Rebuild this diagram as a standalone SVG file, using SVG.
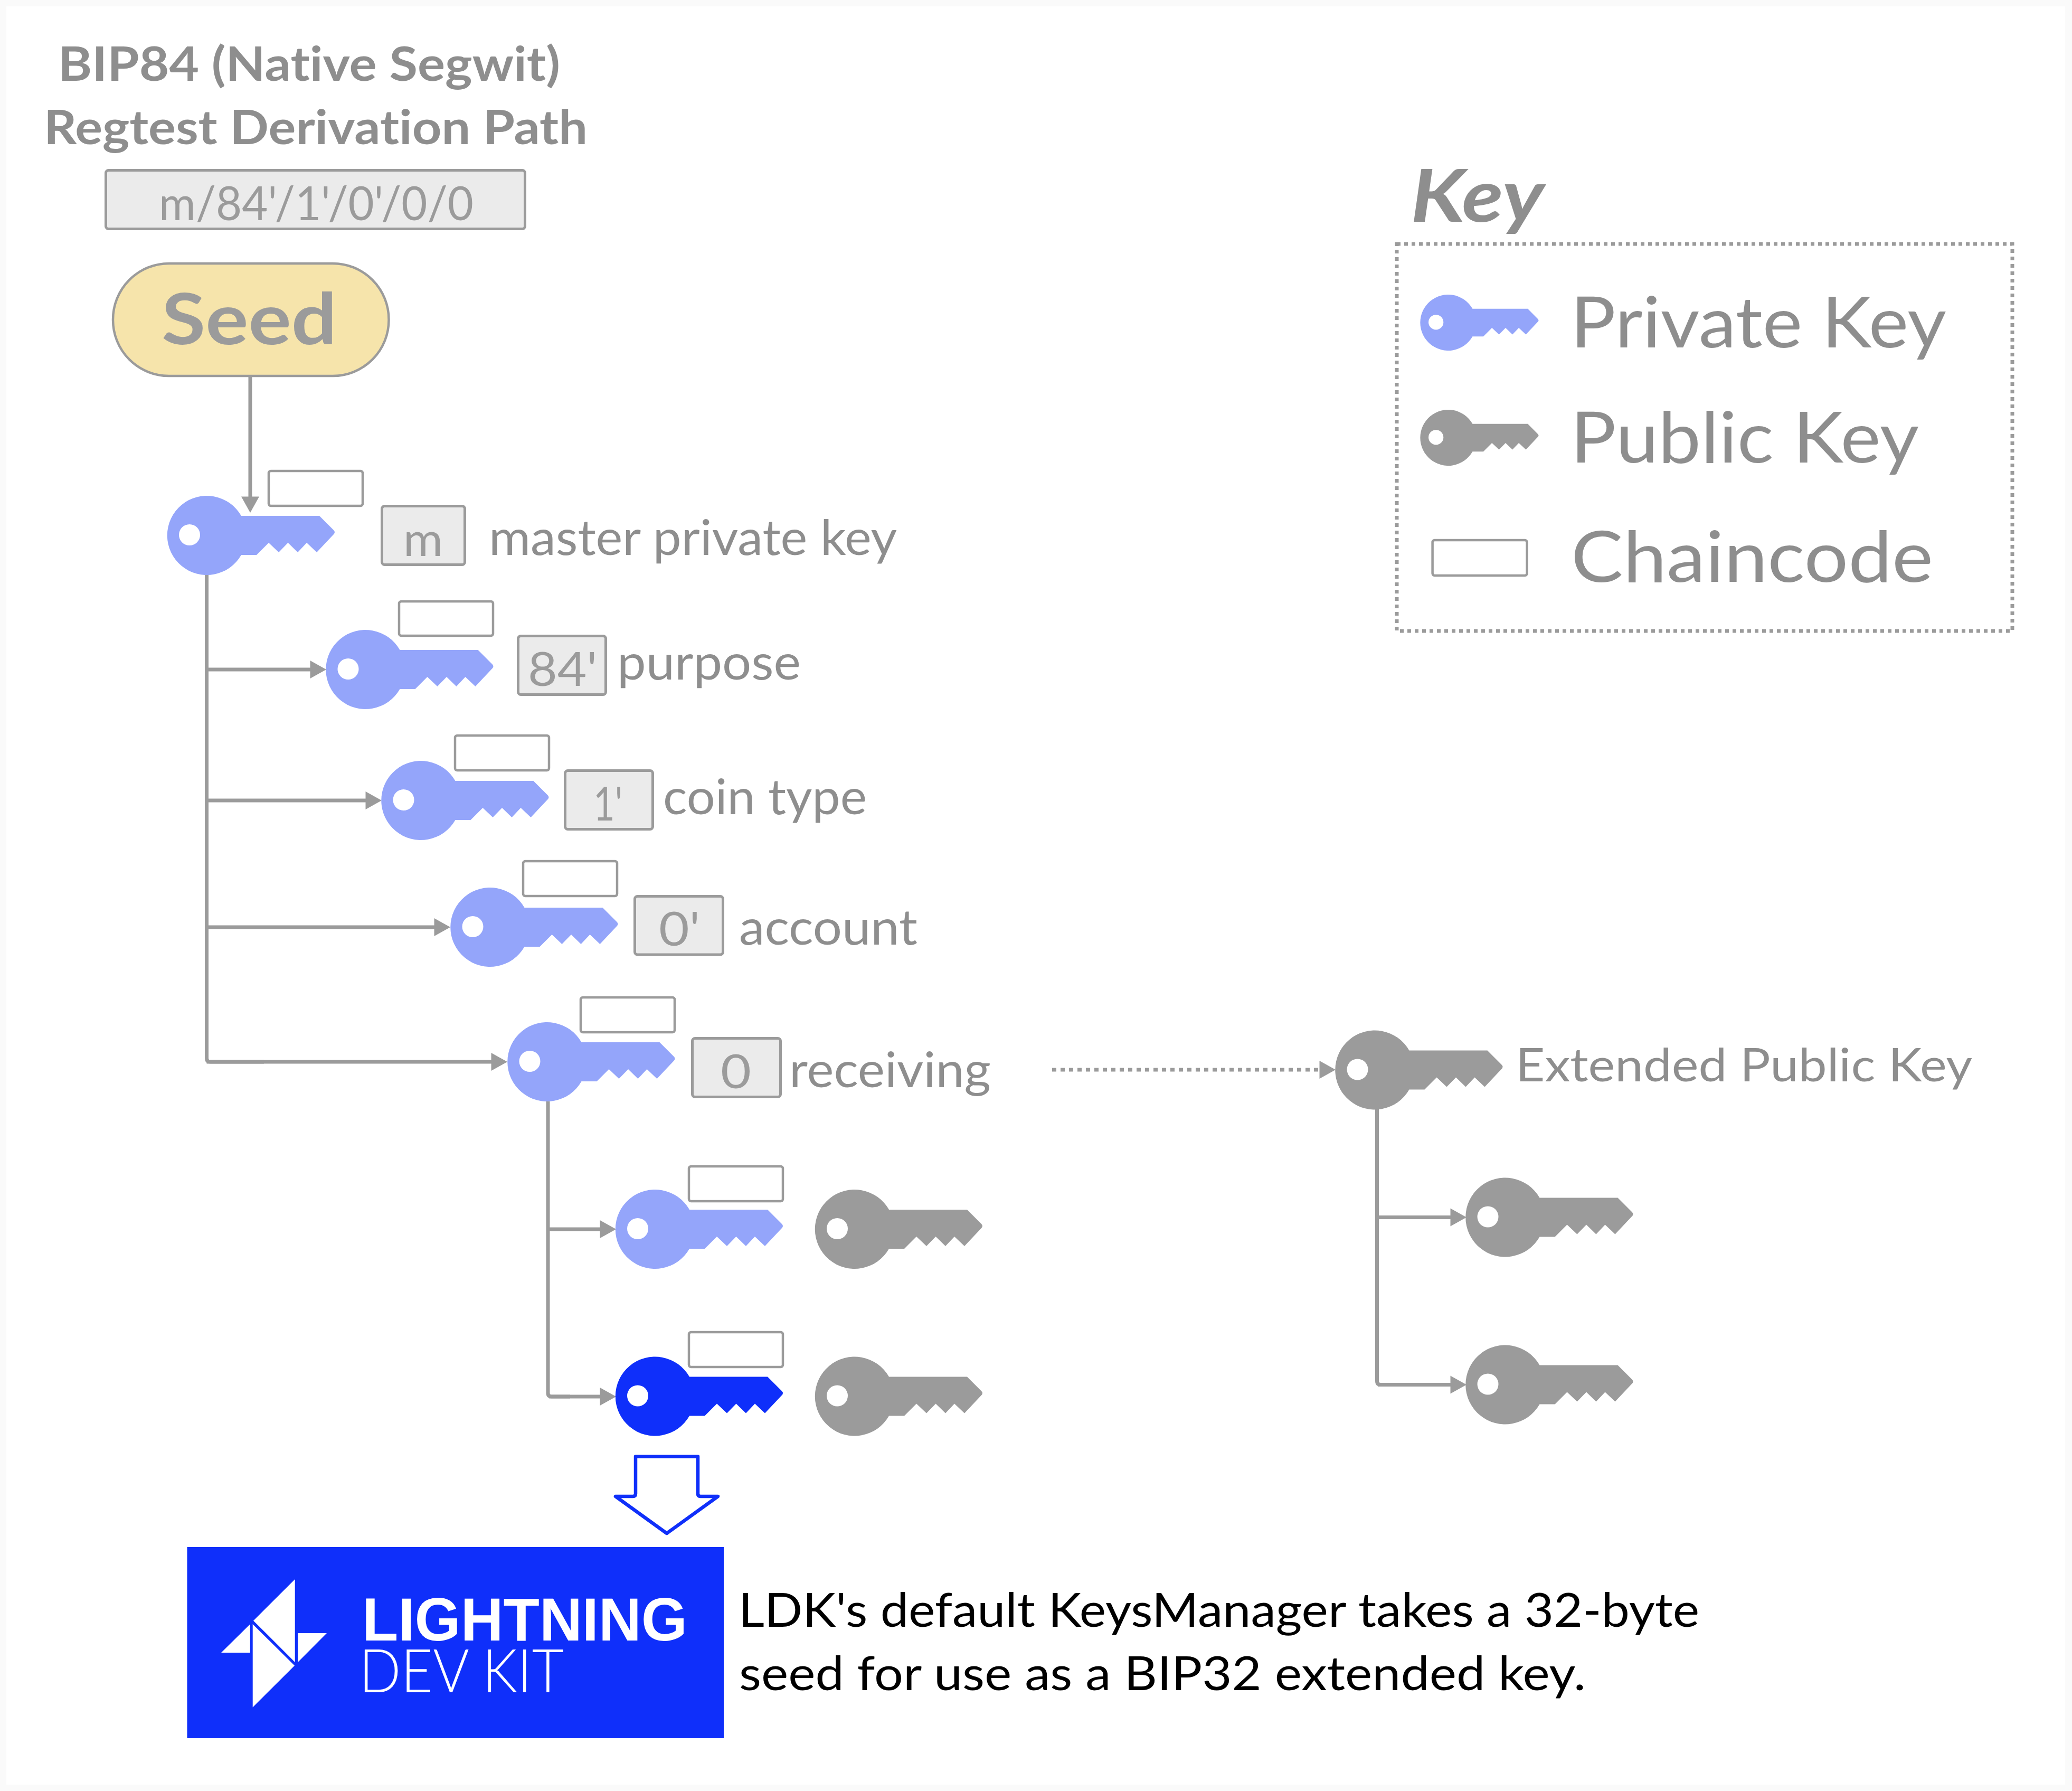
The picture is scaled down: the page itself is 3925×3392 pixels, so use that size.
<svg xmlns="http://www.w3.org/2000/svg" width="3925" height="3392" viewBox="0 0 3925 3392">
<style>
text{font-family:"Lato","Noto Sans",sans-serif;fill:#8e8e8e;white-space:pre;font-variant-ligatures:none}
.lbl{font-size:93px}
.num{font-size:90px;fill:#9b9b9b}
.head{font-size:90px;font-weight:700}
.leg{font-size:133px}
.ext{font-size:88px}
.note{font-size:89px;fill:#000}
.box{fill:#ebebeb;stroke:#9b9b9b;stroke-width:5}
.cc{fill:#fff;stroke:#9b9b9b;stroke-width:4.5}
.priv{fill:#94a5fa}
.pub{fill:#9b9b9b}
.leaf{fill:#0f2ffa}
.wire{fill:none;stroke:#9b9b9b;stroke-width:7;marker-end:url(#arrow)}
.trunk{fill:none;stroke:#9b9b9b;stroke-width:7}
</style>
<defs>
<path id="key" fill-rule="evenodd" d="M65,-37H213L240,-10Q244,-6 240,-2L208,32L189,14L172,32L153.5,14L136,32L117,14L94,37H65A75,75 0 1 1 65,-37ZM-53,-1a20,20 0 1 0 40,0a20,20 0 1 0 -40,0Z"/>
<marker id="arrow" markerUnits="userSpaceOnUse" markerWidth="32" markerHeight="36" viewBox="0 0 32 36" refX="2" refY="18" orient="auto"><path d="M0.5,1L31,18L0.5,35Z" fill="#9b9b9b"/></marker>
</defs>
<rect width="3925" height="3392" fill="#fafafa"/>
<rect x="12" y="12" width="3900" height="3368" fill="#fff"/>

<g id="connectors">
<path class="wire" d="M474,714V942"/>
<path class="trunk" d="M391.5,1085V2004Q391.5,2011 398.5,2011H500"/>
<path class="wire" d="M391.5,2011H932"/>
<path class="wire" d="M391.5,1268H589"/>
<path class="wire" d="M391.5,1516H694"/>
<path class="wire" d="M391.5,1756H824"/>
<path class="trunk" d="M1038,2086V2638Q1038,2645 1045,2645H1080"/>
<path class="wire" d="M1040,2645H1138"/>
<path class="wire" d="M1038,2328H1138"/>
<path class="trunk" d="M2608.5,2101V2615.5Q2608.5,2622.5 2615.5,2622.5H2650"/>
<path class="wire" d="M2610,2622.5H2749"/>
<path class="wire" d="M2608.5,2305.5H2749"/>
<path class="wire" stroke-dasharray="8 8" d="M1993,2026H2501"/>
</g>

<g id="title">
<text class="head" x="110" y="153" textLength="951" lengthAdjust="spacingAndGlyphs">BIP84 (Native Segwit)</text>
<text class="head" x="83" y="273" textLength="1030" lengthAdjust="spacingAndGlyphs">Regtest Derivation Path</text>
</g>
<g id="path-box">
<rect class="box" x="200.5" y="322.5" width="794" height="111" rx="5"/>
<text class="num" x="301" y="417" textLength="596" lengthAdjust="spacingAndGlyphs">m/84'/1'/0'/0/0</text>
</g>
<g id="seed">
<rect x="214" y="499" width="522.5" height="213" rx="106" fill="#f6e4ab" stroke="#9b9b9b" stroke-width="4.5"/>
<text x="306" y="652" font-size="135" font-weight="700" style="fill:#9b9b9b" textLength="332" lengthAdjust="spacingAndGlyphs">Seed</text>
</g>

<g id="node-m">
<use href="#key" class="priv" x="392" y="1014"/>
<rect class="cc" x="509" y="892" width="178" height="66" rx="4"/>
<rect class="box" x="723.5" y="958.5" width="157" height="111" rx="5"/>
<text class="num" x="764" y="1053" font-size="93" textLength="75" lengthAdjust="spacingAndGlyphs">m</text>
<text class="lbl" x="926" y="1051" textLength="773" lengthAdjust="spacingAndGlyphs">master private key</text>
</g>
<g id="node-purpose">
<use href="#key" class="priv" x="692.5" y="1268"/>
<rect class="cc" x="756" y="1139" width="178" height="65" rx="4"/>
<rect class="box" x="981.5" y="1204.5" width="166" height="111" rx="5"/>
<text class="num" x="1000" y="1299" textLength="131" lengthAdjust="spacingAndGlyphs">84'</text>
<text class="lbl" x="1169" y="1287" textLength="348" lengthAdjust="spacingAndGlyphs">purpose</text>
</g>
<g id="node-coin">
<use href="#key" class="priv" x="797.5" y="1516"/>
<rect class="cc" x="862" y="1393" width="178" height="66" rx="4"/>
<rect class="box" x="1070.5" y="1459.5" width="166" height="111" rx="5"/>
<text class="num" x="1124" y="1553.5" textLength="55" lengthAdjust="spacingAndGlyphs">1'</text>
<text class="lbl" x="1256" y="1542" textLength="386" lengthAdjust="spacingAndGlyphs">coin type</text>
</g>
<g id="node-account">
<use href="#key" class="priv" x="928.5" y="1756"/>
<rect class="cc" x="991" y="1631" width="178" height="66" rx="4"/>
<rect class="box" x="1202.5" y="1697.5" width="167" height="110.5" rx="5"/>
<text class="num" x="1248" y="1791" textLength="78" lengthAdjust="spacingAndGlyphs">0'</text>
<text class="lbl" x="1400" y="1789" textLength="338" lengthAdjust="spacingAndGlyphs">account</text>
</g>
<g id="node-receiving">
<use href="#key" class="priv" x="1036.5" y="2011"/>
<rect class="cc" x="1100" y="1889" width="178" height="66" rx="4"/>
<rect class="box" x="1311.5" y="1966.5" width="167" height="111" rx="5"/>
<text class="num" x="1365" y="2061" textLength="58" lengthAdjust="spacingAndGlyphs">0</text>
<text class="lbl" x="1495" y="2059" textLength="382" lengthAdjust="spacingAndGlyphs">receiving</text>
</g>
<g id="node-child-0">
<use href="#key" class="priv" x="1241" y="2328"/>
<rect class="cc" x="1305" y="2209" width="178" height="66" rx="4"/>
</g>
<g id="node-child-0-pub"><use href="#key" class="pub" x="1619" y="2328"/></g>
<g id="node-child-1">
<use href="#key" class="leaf" x="1241" y="2644.5"/>
<rect class="cc" x="1305" y="2523" width="178" height="66" rx="4"/>
</g>
<g id="node-child-1-pub"><use href="#key" class="pub" x="1619" y="2644.5"/></g>
<g id="node-xpub">
<use href="#key" class="pub" x="2604.5" y="2026.5"/>
<text class="ext" x="2871" y="2048" textLength="865" lengthAdjust="spacingAndGlyphs">Extended Public Key</text>
</g>
<g id="node-xpub-0"><use href="#key" class="pub" x="2851.5" y="2305.5"/></g>
<g id="node-xpub-1"><use href="#key" class="pub" x="2851.5" y="2622.5"/></g>

<g id="legend">
<text x="2672" y="420" font-size="138" font-weight="700" font-style="italic" textLength="253" lengthAdjust="spacingAndGlyphs">Key</text>
<rect x="2646" y="462" width="1166" height="733" fill="none" stroke="#9b9b9b" stroke-width="7" stroke-dasharray="7 7"/>
<use href="#key" class="priv" transform="translate(2743.5 611) scale(.7067)"/>
<text class="leg" x="2975" y="658" textLength="712" lengthAdjust="spacingAndGlyphs">Private Key</text>
<use href="#key" class="pub" transform="translate(2743.5 829) scale(.7067)"/>
<text class="leg" x="2975" y="876" textLength="660" lengthAdjust="spacingAndGlyphs">Public Key</text>
<rect class="cc" x="2713.6" y="1023" width="179" height="67" rx="4"/>
<text class="leg" x="2976" y="1102" textLength="686" lengthAdjust="spacingAndGlyphs">Chaincode</text>
</g>

<g id="ldk-arrow">
<path d="M1204,2758.5H1322V2829Q1322,2834 1327,2834H1360L1263,2904L1166,2834H1199Q1204,2834 1204,2829Z" fill="#fff" stroke="#0f2ffa" stroke-width="6.5" stroke-linejoin="round"/>
</g>
<g id="ldk-logo">
<rect x="354.5" y="2930" width="1016.5" height="362" fill="#0f2ffa"/>
<path fill="#fff" d="M558.7,2991V3148L480,3069.4ZM473.8,3076V3130H419ZM564.3,3093H619L564.3,3148ZM478.7,3076L558,3154.4L478.7,3233.6Z"/>
<text x="686" y="3107" font-size="115" font-weight="700" style="font-family:'Liberation Sans',Arial,sans-serif;fill:#fff" textLength="616" lengthAdjust="spacingAndGlyphs">LIGHTNING</text>
<text x="680" y="3205" font-size="114" font-weight="300" style="fill:#fff" textLength="388" lengthAdjust="spacingAndGlyphs">DEV KIT</text>
</g>
<g id="note">
<text class="note" x="1399" y="3081" textLength="1820" lengthAdjust="spacingAndGlyphs">LDK's default KeysManager takes a 32-byte</text>
<text class="note" x="1400" y="3201" textLength="1604" lengthAdjust="spacingAndGlyphs">seed for use as a BIP32 extended key.</text>
</g>
</svg>
